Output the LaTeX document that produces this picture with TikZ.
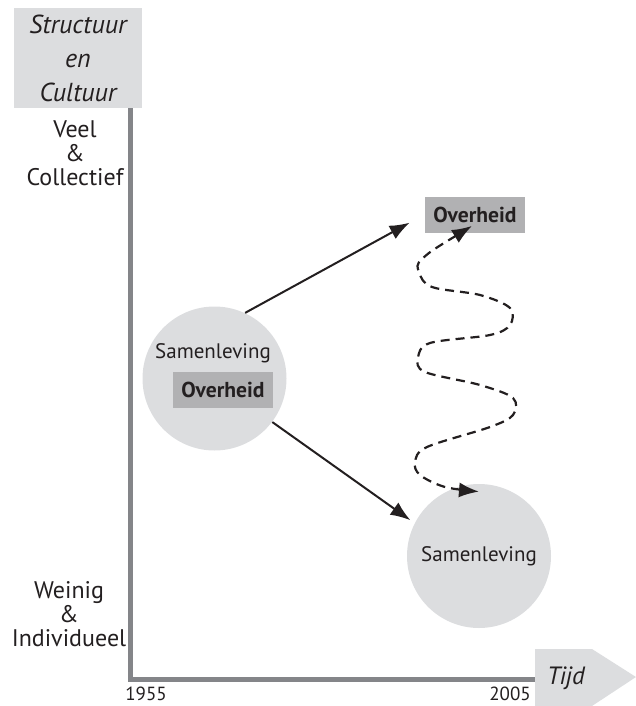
\documentclass[tikz,border=0pt]{standalone}
\usepackage{fontspec}
\setmainfont{PT Sans}
\usepackage{xcolor}
\usepackage{tikz}
\usetikzlibrary{arrows.meta}
\definecolor{vlakgrijs}{RGB}{220,221,223}
\definecolor{blokgrijs}{RGB}{177,177,179}
\definecolor{asgrijs}{RGB}{132,133,137}
\definecolor{inkt}{RGB}{35,31,32}

\begin{document}
\begin{tikzpicture}[x=0.5pt, y=-0.5pt, every node/.style={text=inkt},
        bol/.style={circle, fill=vlakgrijs, minimum size=72pt, inner sep=0pt},
        overheid/.style={fill=blokgrijs, minimum width=50pt, minimum height=18pt,
        inner sep=0pt, font=\fontsize{10.8}{12}\selectfont\bfseries},
        schaal/.style={align=center, font=\fontsize{12}{12}\selectfont},
        jaar/.style={font=\fontsize{9.5}{11}\selectfont},
        aslijn/.style={draw=asgrijs, line width=2.5pt},
        pijl/.style={draw=inkt, line width=1pt, -{Latex[length=10pt,width=7.5pt]}},
        golf/.style={draw=inkt, line width=1.1pt, dash pattern=on 4.5pt off 3pt,
        {Latex[length=10pt,width=7.5pt]}-{Latex[length=10pt,width=7.5pt]}}]
        \useasboundingbox (0,0) rectangle (636,706);
        \node[fill=vlakgrijs, minimum width=64pt, minimum height=50pt, inner sep=0pt,
        align=center, font=\fontsize{13}{17}\selectfont\itshape] (titel) at (78,58) 
        {Structuur\\en\\Cultuur};
        \fill[vlakgrijs] (535,649) -- (592,649) -- (636,677) -- (592,706) -- (535,706) 
        -- cycle;
        \node[font=\fontsize{12.5}{14}\selectfont\itshape] (tijd) at (566,678) {Tijd};
        \coordinate (oorsprong) at (130,679);
        \draw[aslijn] (titel.south -| oorsprong) -- (oorsprong) -- (535,679);
        \node[schaal] (veel) at (75,153) {Veel\\\&\\Collectief};
        \node[schaal] (weinig) at (69,614) {Weinig\\\&\\Individueel};
        \node[jaar] (begin) at (146,694) {1955};
        \node[jaar] (eind) at (510,694) {2005};
        \node[bol] (sam1) at (214.5,378.5) {};
        \node[font=\fontsize{10.5}{12}\selectfont] (samtekst) at (213,353) {Samenleving};
        \node[overheid] (ovh1) at (223,390) {Overheid};
        \node[bol, font=\fontsize{10.5}{12}\selectfont] (sam2) at (479,556) {Samenleving};
        \node[overheid] (ovh2) at (475,214.5) {Overheid};
        \draw[pijl, shorten >=8.5pt] (sam1.65) -- (ovh2.west);
        \draw[pijl, shorten >=2.5pt] (sam1.-37) -- (sam2.153);
        \draw[golf] plot[smooth, tension=0.55] coordinates {([xshift=-1.5pt, 
        yshift=3.5pt]ovh2.south) (423,258) (419,272) (432,287) (480,295) (510,308) 
        (510,325) (490,335) (430,343) (418,358) (425,372) (480,385) (513,398) 
        (513,415) (490,427) (427,447) (415,462) (420,475) (445,487) 
        ([yshift=-4pt]sam2.north)};
    \end{tikzpicture}
\end{document}
